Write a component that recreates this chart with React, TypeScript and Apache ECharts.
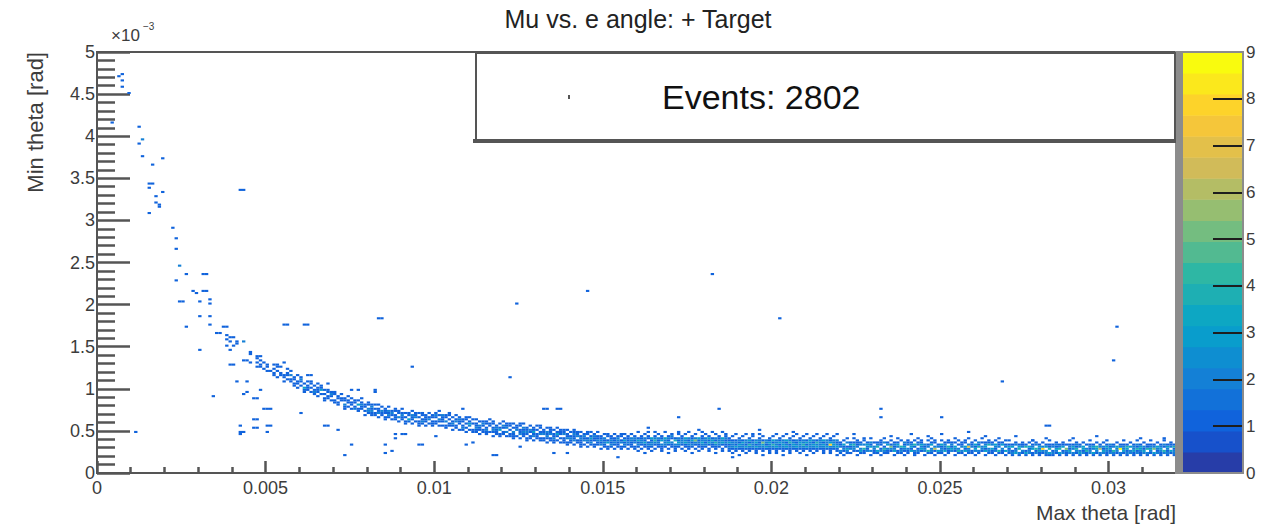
import React, { useEffect, useRef } from 'react';
import * as echarts from 'echarts';

// ---- texts ----
const TITLE = 'Mu vs. e angle: + Target';
const X_TITLE = 'Max theta [rad]';
const Y_TITLE = 'Min theta [rad]';
const Y_EXP_BASE = '×10';
const Y_EXP_POW = '−3';
const LEGEND_TEXT = 'Events: 2802';

// ---- axes ----
const X_MIN = 0;
const X_MAX = 0.032;
const X_INTERVAL = 0.005;
const Y_MIN = 0;
const Y_MAX = 5; // in units of 1e-3 rad
const Y_INTERVAL = 0.5;
const Z_MAX = 9;
const Z_LEVELS = 20;

// ---- histogram binning ----
const BIN_X = 0.0001; // rad
const BIN_Y = 0.025; // 1e-3 rad

// isolated bins [xBin, yBin, count] along the steep part of the curve
const upperCurve: [number, number, number][] = [
  [6, 188, 1], [7, 189, 1], [7, 186, 1], [7, 183, 1], [9, 180, 1], [4, 166, 1],
  [12, 164, 1], [13, 158, 2], [12, 156, 1], [13, 150, 1], [19, 149, 1], [16, 146, 1],
  [15, 137, 1], [16, 137, 1], [15, 135, 1], [19, 133, 1], [17, 131, 1], [17, 128, 1], [18, 127, 1], [18, 126, 1], [15, 123, 1],
  [22, 116, 1], [23, 111, 1], [23, 106, 1], [24, 98, 2], [26, 94, 1], [23, 91, 1],
  [31, 94, 1], [32, 94, 1], [28, 86, 1], [29, 85, 1], [31, 86, 1], [32, 86, 1], [24, 81, 1], [25, 81, 1], [30, 81, 1], [33, 82, 1], [33, 80, 1],
  [30, 74, 1], [33, 74, 1], [33, 70, 1], [26, 69, 1], [37, 69, 1], [38, 69, 1], [35, 66, 1], [36, 66, 1],
  [38, 65, 1], [38, 63, 1], [39, 64, 1], [40, 64, 1], [39, 62, 1], [41, 62, 1], [41, 61, 1], [40, 60, 1], [38, 60, 1], [39, 58, 1],
  [43, 62, 2], [30, 58, 1], [45, 57, 1], [45, 56, 1], [43, 53, 1], [44, 53, 1], [45, 52, 1],
  [47, 55, 1], [48, 55, 1], [47, 54, 1], [48, 53, 1], [47, 52, 1], [48, 51, 1], [47, 50, 1], [48, 50, 1],
  [39, 51, 1], [40, 51, 1], [49, 52, 1], [50, 51, 1], [50, 50, 1], [49, 49, 1], [50, 48, 1], [51, 48, 1],
];

// scattered bins away from the band [xBin, yBin, count]
const outliers: [number, number, number][] = [
  [41, 43, 1], [44, 43, 1], [48, 39, 1], [44, 38, 1], [43, 37, 1], [34, 36, 1], [46, 35, 1], [47, 35, 1],
  [49, 30, 1], [50, 30, 1], [51, 30, 1], [46, 25, 1], [47, 25, 1], [42, 22, 1], [42, 19, 1], [43, 19, 1],
  [42, 18, 1], [46, 21, 1], [47, 21, 1], [50, 22, 1], [51, 22, 1], [50, 19, 1], [11, 19, 1],
  [42, 134, 1], [43, 134, 1],
  [124, 80, 1], [145, 86, 1], [182, 94, 1], [202, 73, 1], [83, 73, 1], [84, 73, 1], [55, 70, 1], [56, 70, 1],
  [61, 70, 1], [62, 70, 1], [302, 69, 1], [301, 53, 1], [93, 50, 1], [122, 45, 1], [268, 43, 1],
  [232, 30, 1], [232, 26, 1], [250, 26, 1], [281, 22, 1], [282, 22, 1], [281, 16, 1],
  [132, 30, 1], [133, 30, 1], [136, 30, 1], [137, 30, 1], [184, 30, 1], [172, 26, 1], [108, 30, 1],
  [95, 13, 1], [96, 13, 1], [109, 13, 1], [117, 8, 1], [118, 8, 1], [125, 12, 1], [135, 9, 1], [139, 9, 1],
  [91, 18, 1], [100, 17, 1], [111, 14, 1], [250, 18, 1], [258, 19, 1], [235, 17, 1], [277, 15, 1],
  [60, 28, 1], [67, 22, 1], [68, 22, 1], [71, 20, 1], [75, 13, 1], [73, 8, 1], [85, 13, 1], [85, 9, 1],
  [87, 10, 1], [88, 18, 1], [88, 16, 1], [90, 18, 1], [55, 52, 1], [53, 51, 1], [62, 46, 1], [63, 46, 1],
  [68, 42, 1], [75, 39, 1], [77, 39, 1], [82, 39, 1], [82, 38, 1],
  [163, 21, 1], [178, 20, 1], [196, 20, 1], [206, 19, 1], [224, 18, 1], [241, 18, 1], [246, 17, 1],
  [263, 17, 1], [272, 17, 1], [289, 16, 1], [296, 17, 1], [309, 16, 1], [316, 16, 1], [154, 7, 1], [188, 7, 1],
];

// band columns: [xBin, first yBin, counts of consecutive y bins]
const bandA: [number, number, string][] = [
  [52, 45, '0110101'], [53, 45, '1001010'], [54, 45, '0110010'], [55, 43, '1011000'], [56, 43, '0101101'],
  [57, 43, '1102010'], [58, 40, '0110110'], [59, 40, '1011001'], [60, 40, '0101210'], [61, 38, '1130100'],
  [62, 38, '0111010'], [63, 38, '1010110'], [64, 36, '0121010'], [65, 36, '1011101'], [66, 36, '0103110'],
  [67, 34, '1101010'], [68, 34, '0110110'], [69, 34, '1012100'], [70, 32, '0110011'], [71, 32, '1101100'],
  [72, 32, '0011010'], [73, 30, '1120110'], [74, 30, '0101101'], [75, 30, '1011010'], [76, 29, '0210110'],
  [77, 29, '1103010'], [78, 29, '0112101'], [79, 27, '1010110'], [80, 27, '0122011'], [81, 27, '1121210'],
  [82, 26, '0110101'], [83, 26, '1021101'], [84, 26, '0112010'], [85, 25, '1101110'], [86, 25, '0121201'],
  [87, 25, '1012100'], [88, 24, '0111011'], [89, 24, '1020110'], [90, 24, '0112101'], [91, 23, '1101010'],
  [92, 23, '0130110'], [93, 23, '1011201'], [94, 23, '0102110'], [95, 22, '1110101'], [96, 22, '0121011'],
  [97, 22, '1011110'], [98, 22, '0102101'], [99, 22, '1110110'],
];

const bandB: [number, number, string][] = [
  [100, 22, '01101210'], [101, 22, '10120101'], [102, 21, '01011120'], [103, 21, '11020110'], [104, 21, '01101011'],
  [105, 20, '10121010'], [106, 20, '01102101'], [107, 20, '10011210'], [108, 19, '01210110'], [109, 19, '10101011'],
  [110, 19, '01023101'], [111, 19, '11001010'], [112, 18, '01121101'], [113, 18, '10112010'], [114, 18, '01101210'],
  [115, 18, '11210110'], [116, 18, '01001101'], [117, 17, '10121011'], [118, 17, '01112100'], [119, 17, '11031010'],
  [120, 17, '01101201'], [121, 17, '10202110'], [122, 16, '01101011'], [123, 16, '11120101'], [124, 16, '01002110'],
  [125, 16, '10211011'], [126, 16, '01121201'], [127, 15, '11012110'], [128, 15, '01101201'], [129, 15, '10213110'],
  [130, 15, '01110101'], [131, 15, '11021011'], [132, 14, '01102110'], [133, 14, '10121201'], [134, 14, '01102111'],
  [135, 14, '11211010'], [136, 14, '01013101'], [137, 14, '10101110'], [138, 13, '01110211'], [139, 13, '11021101'],
  [140, 13, '01121010'], [141, 13, '10211211'], [142, 13, '01102110'], [143, 12, '11112101'], [144, 12, '01021210'],
  [145, 12, '10121011'], [146, 12, '01213101'], [147, 12, '11011210'], [148, 12, '01121101'], [149, 11, '10212110'],
  [150, 11, '01121201'], [151, 11, '11031011'], [152, 11, '01212110'], [153, 11, '10121101'], [154, 11, '01112210'],
  [155, 11, '11021011'], [156, 11, '01213101'], [157, 11, '10121110'], [158, 11, '01112201'], [159, 11, '11021210'],
];

const bandC: [number, number, string][] = [
  [160, 9, '01012131001'], [161, 9, '00101221100'], [162, 9, '10011312010'], [163, 9, '00112101101'],
  [164, 9, '01012213000'], [165, 9, '00101242101'], [166, 9, '00011212010'], [167, 9, '01112031100'],
  [168, 9, '00012223001'], [169, 9, '10101312100'], [170, 9, '00011201210'], [171, 9, '01112041000'],
  [172, 9, '00012312011'], [173, 9, '00101221100'], [174, 9, '01011323010'], [175, 9, '00112212001'],
  [176, 9, '10012131100'], [177, 9, '00101252010'], [178, 9, '01011213000'], [179, 9, '00112321101'],
  [180, 9, '00012122010'], [181, 9, '01101313100'], [182, 9, '00011231001'], [183, 9, '10112412010'],
  [184, 9, '00012221100'], [185, 9, '01101323001'], [186, 9, '00011212110'], [187, 8, '00112131100'],
  [188, 8, '01012221010'], [189, 8, '00113121001'], [190, 8, '10012312100'], [191, 8, '00112231010'],
  [192, 8, '01013122001'], [193, 8, '00112413100'], [194, 8, '00012221011'], [195, 8, '01113132000'],
  [196, 8, '00012212101'], [197, 8, '10112351010'], [198, 8, '00013122000'], [199, 8, '01112231100'],
  [200, 8, '00012413010'], [201, 8, '01113222001'], [202, 8, '00012131100'], [203, 8, '10112322010'],
  [204, 8, '00013213001'], [205, 8, '01112142100'], [206, 8, '00012321010'], [207, 8, '00113212001'],
  [208, 8, '01012231100'], [209, 8, '00112422010'], [210, 8, '10013131001'], [211, 8, '00112223100'],
  [212, 8, '01012312010'], [213, 8, '00113241001'], [214, 8, '00012222100'], [215, 8, '01112313010'],
  [216, 8, '00013122001'], [217, 8, '01112831100'], [218, 8, '00012322010'], [219, 8, '10113212001'],
];

const bandD: [number, number, string][] = [
  [220, 7, '0012021100'], [221, 7, '0101213010'], [222, 7, '0012310201'], [223, 7, '0010213100'], [224, 7, '0001224101'],
  [225, 7, '0101021110'], [226, 7, '0013202100'], [227, 7, '0011402011'], [228, 7, '0002123100'], [229, 7, '0102031201'],
  [230, 7, '0011220100'], [231, 7, '0013042100'], [232, 7, '0102101110'], [233, 7, '0012410201'], [234, 7, '0011203100'],
  [235, 7, '0001251010'], [236, 7, '0103212100'], [237, 7, '0011023101'], [238, 7, '0012140010'], [239, 7, '0101231200'],
  [240, 7, '0011202110'], [241, 7, '0003132100'], [242, 7, '0112014010'], [243, 7, '0012102101'], [244, 7, '0001323110'],
  [245, 7, '0102212000'], [246, 7, '0014021010'], [247, 7, '0012203101'], [248, 7, '0101620110'], [249, 7, '0013021000'],
  [250, 7, '0012213010'], [251, 7, '0103122100'], [252, 7, '0011240110'], [253, 7, '0002312100'], [254, 7, '0101230101'],
  [255, 7, '0014201010'], [256, 7, '0012021100'], [257, 7, '0103130110'], [258, 7, '0012272001'], [259, 7, '0011021100'],
  [260, 7, '0102313010'], [261, 7, '0012041200'], [262, 7, '0001220101'], [263, 7, '0103132100'], [264, 7, '0012204110'],
  [265, 7, '0011302100'], [266, 7, '0102123010'], [267, 7, '0014021101'], [268, 7, '0011203100'], [269, 7, '0103021010'],
];

const bandE: [number, number, string][] = [
  [270, 7, '001213101'], [271, 7, '012103100'], [272, 7, '003210210'], [273, 7, '012043100'], [274, 7, '001202110'],
  [275, 7, '013104100'], [276, 7, '002213010'], [277, 7, '011032101'], [278, 7, '002140210'], [279, 7, '011323100'],
  [280, 7, '001282010'], [281, 7, '012203100'], [282, 7, '013041101'], [283, 7, '012102100'], [284, 7, '001231210'],
  [285, 7, '013042100'], [286, 7, '002103110'], [287, 7, '011250100'], [288, 7, '002312101'], [289, 7, '012023100'],
  [290, 7, '001241210'], [291, 7, '013202100'], [292, 7, '002133010'], [293, 7, '011420100'], [294, 7, '002212101'],
  [295, 7, '013023100'], [296, 7, '001234010'], [297, 7, '012062100'], [298, 7, '002312010'], [299, 7, '011223101'],
  [300, 7, '002131200'], [301, 7, '012402100'], [302, 7, '001223010'], [303, 7, '012092100'], [304, 7, '001322101'],
  [305, 7, '012134100'], [306, 7, '002203010'], [307, 7, '011322100'], [308, 7, '002141201'], [309, 7, '011233100'],
  [310, 7, '002312010'], [311, 7, '012041100'], [312, 7, '001232101'], [313, 7, '013052100'], [314, 7, '002123010'],
  [315, 7, '011232100'], [316, 7, '002401201'], [317, 7, '012123100'], [318, 7, '001302110'], [319, 7, '012214100'],
];

// ---- ROOT kBird palette (style) ----
const BIRD_STOPS = [0.0, 0.125, 0.25, 0.375, 0.5, 0.625, 0.75, 0.875, 1.0];
const BIRD_R = [0.2082, 0.0592, 0.078, 0.0232, 0.1802, 0.5301, 0.8186, 0.9956, 0.9764];
const BIRD_G = [0.1664, 0.3599, 0.5041, 0.6419, 0.7178, 0.7492, 0.7328, 0.7862, 0.9832];
const BIRD_B = [0.5293, 0.8684, 0.8385, 0.7914, 0.6425, 0.4662, 0.3499, 0.1968, 0.0539];

function bird(t: number): string {
  let k = 0;
  while (k < BIRD_STOPS.length - 2 && t > BIRD_STOPS[k + 1]) k++;
  const f = (t - BIRD_STOPS[k]) / (BIRD_STOPS[k + 1] - BIRD_STOPS[k]);
  const c = (a: number[]) => Math.round(255 * (a[k] + (a[k + 1] - a[k]) * f));
  return `rgb(${c(BIRD_R)},${c(BIRD_G)},${c(BIRD_B)})`;
}
function levelColor(i: number): string {
  const idx = Math.floor(((i + 0.99) * 255) / Z_LEVELS);
  return bird(Math.min(1, idx / 254));
}
function countColor(c: number): string {
  let i = Math.floor(c / (Z_MAX / Z_LEVELS) + 1e-9);
  if (i > Z_LEVELS - 1) i = Z_LEVELS - 1;
  return levelColor(i);
}

function buildBins(): number[][] {
  const out: number[][] = [];
  for (const [ix, iy, c] of [...upperCurve, ...outliers]) out.push([ix * BIN_X, iy * BIN_Y, c]);
  for (const cols of [bandA, bandB, bandC, bandD, bandE]) {
    for (const [ix, iy0, s] of cols) {
      for (let k = 0; k < s.length; k++) {
        const c = Number(s[k]);
        if (c > 0) out.push([ix * BIN_X, (iy0 + k) * BIN_Y, c]);
      }
    }
  }
  return out;
}

const FONT = '"Liberation Sans", Arial, sans-serif';

export default function App() {
  const ref = useRef<HTMLDivElement>(null);
  useEffect(() => {
    if (!ref.current) return;
    const chart = echarts.init(ref.current, undefined, { renderer: 'svg' });
    const bins = buildBins();
    const levels: number[][] = [];
    for (let i = 0; i < Z_LEVELS; i++) levels.push([0, (i * Z_MAX) / Z_LEVELS, i]);

    const axisColor = '#555';
    const labelColor = '#3c3c3c';

    chart.setOption({
      animation: false,
      backgroundColor: '#fff',
      textStyle: { fontFamily: FONT },
      grid: [
        { left: 97, top: 52, width: 1079, height: 421, show: true, borderColor: axisColor, borderWidth: 2, backgroundColor: 'transparent' },
        { left: 1182, top: 52, width: 61, height: 421, show: false },
      ],
      xAxis: [
        {
          type: 'value', gridIndex: 0, min: X_MIN, max: X_MAX, interval: X_INTERVAL,
          axisLine: { show: true, onZero: false, lineStyle: { color: axisColor, width: 2 } },
          axisTick: { show: true, inside: true, length: 12, lineStyle: { color: axisColor, width: 2.5 } },
          minorTick: { show: true, splitNumber: 5, length: 6, lineStyle: { color: axisColor, width: 2.5 } },
          axisLabel: { show: true, fontSize: 18, color: labelColor, margin: 6, fontFamily: FONT, showMaxLabel: false },
          splitLine: { show: false },
        },
        { type: 'value', gridIndex: 1, min: 0, max: 1, show: false },
      ],
      yAxis: [
        {
          type: 'value', gridIndex: 0, min: Y_MIN, max: Y_MAX, interval: Y_INTERVAL,
          axisLine: { show: true, onZero: false, lineStyle: { color: axisColor, width: 2 } },
          axisTick: { show: true, inside: true, length: 33, lineStyle: { color: axisColor, width: 2.5 } },
          minorTick: { show: true, splitNumber: 5, length: 18, lineStyle: { color: axisColor, width: 2.5 } },
          axisLabel: { show: true, fontSize: 18, color: labelColor, margin: 2, fontFamily: FONT },
          splitLine: { show: false },
        },
        {
          type: 'value', gridIndex: 1, min: 0, max: Z_MAX, interval: 1, position: 'right', z: 10,
          axisLine: { show: true, onZero: false, lineStyle: { color: '#888', width: 2 } },
          axisTick: { show: true, inside: true, length: 30, lineStyle: { color: '#1e1e1e', width: 2 } },
          axisLabel: { show: true, fontSize: 17, color: labelColor, margin: 3, fontFamily: FONT },
          splitLine: { show: false },
        },
      ],
      series: [
        {
          type: 'custom', xAxisIndex: 0, yAxisIndex: 0, clip: true, data: bins,
          renderItem: (_p: any, api: any) => {
            const x = api.value(0), y = api.value(1), c = api.value(2);
            const p0 = api.coord([x, y]);
            const p1 = api.coord([x + BIN_X, y + BIN_Y]);
            return {
              type: 'rect',
              shape: { x: p0[0], y: p1[1], width: p1[0] - p0[0], height: p0[1] - p1[1] },
              style: { fill: countColor(c) },
            };
          },
        },
        {
          type: 'custom', xAxisIndex: 1, yAxisIndex: 1, data: levels, z: 1,
          renderItem: (_p: any, api: any) => {
            const z0 = api.value(1), i = api.value(2);
            const p0 = api.coord([0, z0]);
            const p1 = api.coord([1, z0 + Z_MAX / Z_LEVELS]);
            return {
              type: 'rect',
              shape: { x: p0[0], y: p1[1], width: p1[0] - p0[0], height: p0[1] - p1[1] + 0.5 },
              style: { fill: levelColor(i) },
            };
          },
        },
      ],
      graphic: [
        { type: 'rect', z: 50, shape: { x: 1175, y: 51, width: 7, height: 423 }, style: { fill: '#8c8c8c' } },
        { type: 'rect', z: 50, shape: { x: 1182, y: 52, width: 61, height: 421 }, style: { fill: 'none', stroke: '#8c8c8c', lineWidth: 2 } },
        { type: 'rect', z: 60, shape: { x: 473, y: 139, width: 703, height: 4 }, style: { fill: '#555' } },
        { type: 'rect', z: 61, shape: { x: 476, y: 53, width: 699, height: 87 }, style: { fill: '#fff', stroke: '#555', lineWidth: 2 } },
        { type: 'rect', z: 62, shape: { x: 568, y: 95, width: 2, height: 4 }, style: { fill: '#555' } },
        {
          type: 'text', z: 62, x: 662, y: 97,
          style: { text: LEGEND_TEXT, fontSize: 34, fontFamily: FONT, fill: '#111', align: 'left', verticalAlign: 'middle' },
        },
        {
          type: 'text', z: 62, x: 638, y: 19,
          style: { text: TITLE, fontSize: 25, fontFamily: FONT, fill: '#222', align: 'center', verticalAlign: 'middle' },
        },
        {
          type: 'text', z: 62, x: 1176, y: 512,
          style: { text: X_TITLE, fontSize: 21, fontFamily: FONT, fill: labelColor, align: 'right', verticalAlign: 'middle' },
        },
        {
          type: 'text', z: 62, x: 35, y: 52, rotation: Math.PI / 2,
          style: { text: Y_TITLE, fontSize: 22, fontFamily: FONT, fill: labelColor, align: 'right', verticalAlign: 'middle' },
        },
        {
          type: 'text', z: 62, x: 111, y: 35,
          style: { text: Y_EXP_BASE, fontSize: 17, fontFamily: FONT, fill: labelColor, align: 'left', verticalAlign: 'middle' },
        },
        {
          type: 'text', z: 62, x: 143, y: 26,
          style: { text: Y_EXP_POW, fontSize: 10, fontFamily: FONT, fill: labelColor, align: 'left', verticalAlign: 'middle' },
        },
      ],
    });
    return () => chart.dispose();
  }, []);
  return (
    <div
      ref={ref}
      style={{ position: 'absolute', left: 0, top: 0, width: 1263, height: 527, background: '#fff' }}
    />
  );
}
